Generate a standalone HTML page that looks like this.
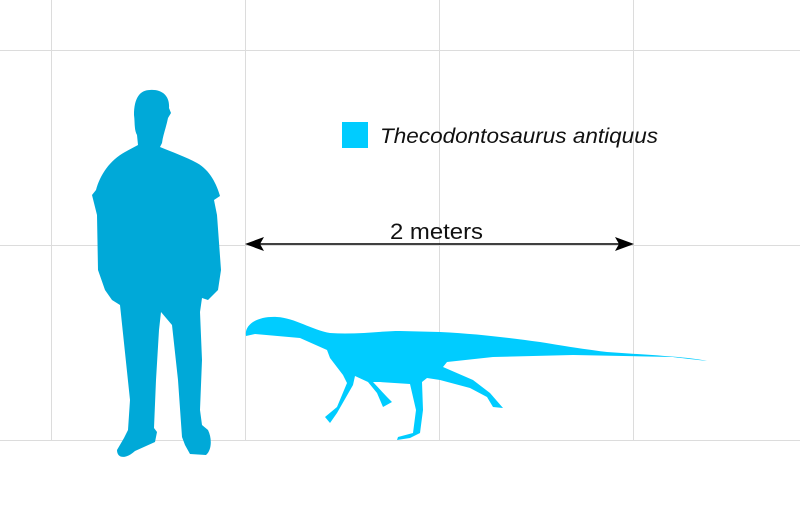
<!DOCTYPE html>
<html><head><meta charset="utf-8"><style>
html,body{margin:0;padding:0;background:#fff;}
svg{display:block;}
</style></head><body>
<svg width="800" height="505" viewBox="0 0 800 505" xmlns="http://www.w3.org/2000/svg">
<g stroke="#dcdcdc" stroke-width="1">
<line x1="51.5" y1="0" x2="51.5" y2="440"/>
<line x1="245.5" y1="0" x2="245.5" y2="440"/>
<line x1="439.5" y1="0" x2="439.5" y2="440"/>
<line x1="633.5" y1="0" x2="633.5" y2="440"/>
<line x1="0" y1="50.5" x2="800" y2="50.5"/>
<line x1="0" y1="245.5" x2="800" y2="245.5"/>
<line x1="0" y1="440.5" x2="800" y2="440.5"/>
</g>
<path fill="#00a9d8" d="M150,90 C162,89 170,96 169,108 L171,113 L168,118 C166,128 163,135 162,143 L160,147 C172,152 186,157 197,163 C210,170 217,185 220,196 L214,200 L217,215 L221,270 L218,290 L208,300 L202,298 L200,312 L202,360 L200,410 L202,425 L208,430 C212,438 212,450 206,455 L190,454 L185,445 L182,437 L178,380 L172,325 L161,312 L159,330 L156,380 L154,428 L157,432 L155,442 L135,451 C125,460 117,458 117,450 L124,438 L128,430 L130,400 L120,305 L112,300 L105,290 L98,270 L97,215 L92,195 L96,190 C100,175 110,160 125,152 L138,145 L137,135 C134,130 135,122 134,115 C134,98 140,90 150,90 Z"/>
<path fill="#00ccff" d="M246,336 C244,324 258,316 277,317 C295,318 312,330 330,333 C355,335 380,331 400,331 L440,332 C480,334 510,338 540,342 C570,347 590,350 607,352 C650,355 690,357 707,361 C690,359 680,358 673,357 L573,355 L493,357 L447,362 L443,367 L473,380 L490,393 L503,408 L493,407 L487,397 L470,388 L440,380 L427,378 L422,382 L423,410 L420,433 L410,438 L397,440 L398,437 L413,433 L416,410 L410,384 L380,382 L373,382 L387,397 L392,402 L383,407 L377,393 L368,382 L355,376 L353,385 L337,413 L330,423 L325,417 L337,407 L347,383 L343,375 L330,358 L327,350 L300,338 L255,334 Z"/>
<rect x="342" y="122" width="26" height="26" fill="#00ccff"/>
<text x="380" y="143" font-family="Liberation Sans, sans-serif" font-style="italic" font-size="21" textLength="278" lengthAdjust="spacingAndGlyphs" fill="#111">Thecodontosaurus antiquus</text>
<g fill="#000">
<line x1="255" y1="244" x2="624" y2="244" stroke="#000" stroke-width="1.5"/>
<polygon points="245,244 264,237 260,244 264,251"/>
<polygon points="634,244 615,237 619,244 615,251"/>
</g>
<text x="436.5" y="239" text-anchor="middle" font-family="Liberation Sans, sans-serif" font-size="22" textLength="93" lengthAdjust="spacingAndGlyphs" fill="#111">2 meters</text>
</svg>
</body></html>
